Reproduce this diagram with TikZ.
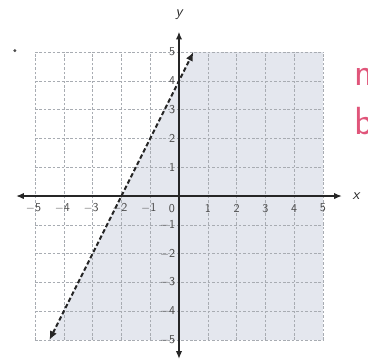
\documentclass[tikz,border=0pt]{standalone}
\usepackage{fontspec}
\setmainfont{Liberation Sans}
\usetikzlibrary{arrows.meta}
\definecolor{regionc}{HTML}{E4E7EE}
\definecolor{gridc}{HTML}{A8ACB2}
\definecolor{labc}{HTML}{4A4A4A}
\definecolor{pinkc}{HTML}{E0557A}
\tikzset{
  gridline/.style={draw=gridc, dash pattern=on 2pt off 1.5pt, line width=0.4pt},
  axisline/.style={draw=black!85, line width=0.9pt, {Latex[length=6pt,width=5pt]}-{Latex[length=6pt,width=5pt]}},
  boundary/.style={draw=black!85, line width=1.6pt, dash pattern=on 3.5pt off 2pt, {Latex[length=7pt,width=6pt]}-{Latex[length=7pt,width=6pt]}},
  ticklab/.style={font=\sffamily\fontsize{9.5}{9.5}\selectfont, text=labc, inner sep=0.5pt},
  axlab/.style={font=\sffamily\itshape\fontsize{12}{12}\selectfont, text=black!85, inner sep=0pt},
  hand/.style={font=\fontsize{31}{31}\selectfont\sffamily, text=pinkc, inner sep=0pt, anchor=west}
}
\begin{document}
\begin{tikzpicture}[x=0.8cm,y=0.8cm]
\useasboundingbox (-6.215,-5.694) rectangle (6.5625,6.806);
\clip (-6.215,-5.694) rectangle (6.5625,6.806);
% shaded half-plane y < 2x + 4
\fill[regionc] (0.5,5) -- (5,5) -- (5,-5) -- (-4.5,-5) -- cycle;
% grid
\foreach \k in {-5,...,5} {
  \draw[gridline] (\k,-5) -- (\k,5);
  \draw[gridline] (-5,\k) -- (5,\k);
}
% axes
\coordinate (xl) at (-5.65,0);
\coordinate (xr) at (5.65,0);
\coordinate (yb) at (0,-5.65);
\coordinate (yt) at (0,5.7);
\draw[axisline] (xl) -- (xr);
\draw[axisline] (yb) -- (yt);
\node[axlab] (xlab) at (6.15,-0.02) {x};
\node[axlab] (ylab) at (0,6.3) {y};
% tick labels
\foreach \k in {1,...,5} {
  \node[ticklab] (xn\k) at (-\k-0.05,-0.42) {$-$\k};
  \node[ticklab] (xp\k) at (\k,-0.42) {\k};
  \node[ticklab, anchor=east] (yp\k) at (-0.1,\k) {\k};
  \node[ticklab, anchor=east] (yn\k) at (-0.1,-\k) {$-$\k};
}
\node[ticklab] (x0) at (-0.25,-0.42) {0};
% boundary line y = 2x + 4
\coordinate (la) at (-4.5,-5);
\coordinate (lb) at (0.5,5);
\draw[boundary] (la) -- (lb);
% margin marks
\node[circle, fill=black!70, inner sep=0.9pt] (dot) at (-5.7,5.05) {};
\node[hand] (hn) at (6.08,4.15) {n};
\node[hand] (hb) at (6.08,2.6) {b};
\end{tikzpicture}
\end{document}
